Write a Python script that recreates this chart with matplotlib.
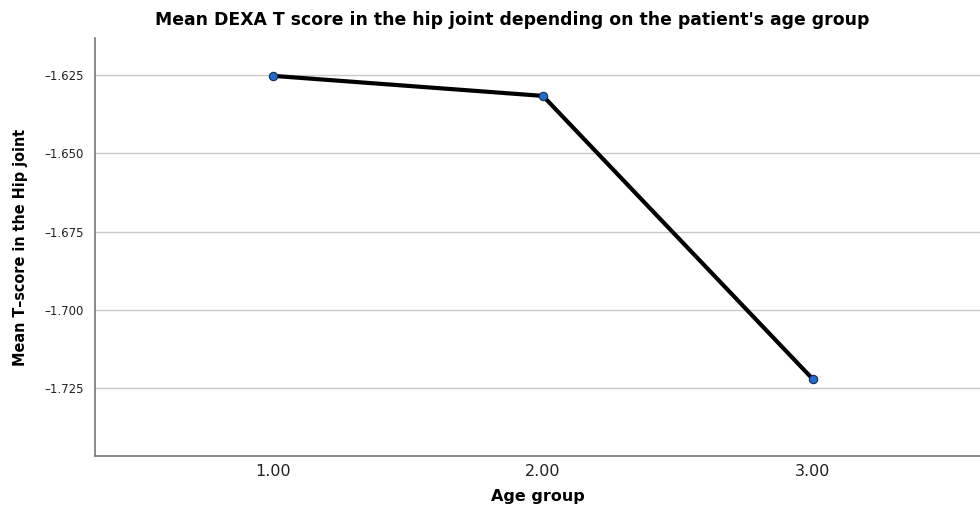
import matplotlib
matplotlib.use('Agg')
import matplotlib.pyplot as plt

age_groups = [1.0, 2.0, 3.0]
mean_t_score = [-1.6253, -1.6317, -1.7221]
y_ticks = [-1.625, -1.650, -1.675, -1.700, -1.725]
x_ticks = [1.0, 2.0, 3.0]

fig = plt.figure(figsize=(9.8, 5.13), dpi=100, facecolor='white')
ax = fig.add_axes([0.097, 0.111, 0.903, 0.815])

ax.plot(age_groups, mean_t_score, color='black', linewidth=3.0, zorder=3,
        marker='o', markersize=6, markerfacecolor='#1f6fd1',
        markeredgecolor='#1a2a4a', markeredgewidth=0.8)

ax.set_xlim(0.34, 3.62)
ax.set_ylim(-1.7467, -1.6132)
ax.set_yticks(y_ticks)
ax.set_yticklabels([f'{v:.3f}'.replace('-', '\u2013') for v in y_ticks], fontsize=8.5)
ax.set_xticks(x_ticks)
ax.set_xticklabels([f'{v:.2f}' for v in x_ticks], fontsize=11.5)
ax.tick_params(axis='x', length=0, pad=6, colors='#222222')
ax.tick_params(axis='y', length=0, pad=8, colors='#222222')
ax.yaxis.grid(True, color='#c8c8c8', linewidth=1.0)
ax.set_axisbelow(True)

for s in ['top', 'right']:
    ax.spines[s].set_visible(False)
for s in ['left', 'bottom']:
    ax.spines[s].set_color('#777777')
    ax.spines[s].set_linewidth(1.2)

# title is centred on the figure, not on the axes
ax.set_title("Mean DEXA T score in the hip joint depending on the patient's age group",
             fontsize=12.4, fontweight='bold', pad=9, x=0.471)
ax.set_xlabel('Age group', fontsize=11.5, fontweight='bold', labelpad=7)
ax.set_ylabel('Mean T\u2013score in the Hip joint', fontsize=11.5, fontweight='bold',
              fontstretch='condensed', labelpad=12)

fig.savefig('out.png', dpi=100, facecolor='white')
